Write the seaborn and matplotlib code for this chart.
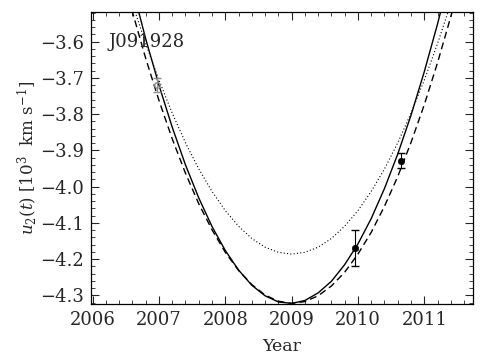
import pandas as pd
import matplotlib
matplotlib.use("Agg")
import matplotlib.pyplot as plt
import seaborn as sns
from matplotlib.ticker import MultipleLocator

# -------------------------------
# DATA
# -------------------------------
years = [2006.4, 2006.6, 2006.8, 2007.0, 2007.2, 2007.4, 2007.6, 2007.8, 2008.0,
         2008.2, 2008.4, 2008.6, 2008.8, 2009.0, 2009.2, 2009.4, 2009.6, 2009.8,
         2010.0, 2010.2, 2010.4, 2010.6, 2010.8, 2011.0, 2011.2, 2011.4, 2011.6]

fit_solid = [-3.298, -3.451, -3.592, -3.720, -3.836, -3.940, -4.031, -4.110, -4.176,
             -4.230, -4.272, -4.301, -4.318, -4.322, -4.314, -4.293, -4.261, -4.215,
             -4.158, -4.088, -4.005, -3.910, -3.803, -3.683, -3.551, -3.407, -3.250]

fit_dashed = [-3.379, -3.518, -3.646, -3.762, -3.868, -3.963, -4.047, -4.119, -4.181,
              -4.231, -4.270, -4.299, -4.316, -4.322, -4.317, -4.301, -4.274, -4.236,
              -4.186, -4.126, -4.054, -3.972, -3.878, -3.774, -3.658, -3.531, -3.393]

fit_dotted = [-3.375, -3.495, -3.605, -3.706, -3.797, -3.879, -3.951, -4.013, -4.066,
              -4.109, -4.143, -4.167, -4.181, -4.186, -4.181, -4.167, -4.143, -4.109,
              -4.066, -4.013, -3.951, -3.879, -3.797, -3.706, -3.605, -3.495, -3.375]

# measured points
obs_year = [2009.95, 2010.65]
obs_u2 = [-4.169, -3.928]
obs_err = [0.050, 0.020]

# grey (excluded) point
grey_year = [2006.97]
grey_u2 = [-3.720]
grey_err = [0.020]

label = "J091928"

df = pd.DataFrame({"Year": years, "solid": fit_solid,
                   "dashed": fit_dashed, "dotted": fit_dotted})

# -------------------------------
# STYLE
# -------------------------------
sns.set_theme(style="ticks")
plt.rcParams["font.family"] = ["DejaVu Serif"]
plt.rcParams["mathtext.fontset"] = "dejavuserif"
plt.rcParams["xtick.direction"] = "in"
plt.rcParams["ytick.direction"] = "in"
plt.rcParams["xtick.top"] = True
plt.rcParams["ytick.right"] = True

fig = plt.figure(figsize=(4.85, 3.64), dpi=100)
ax = fig.add_axes([0.1876, 0.164, 0.787, 0.804])

# -------------------------------
# CURVES
# -------------------------------
sns.lineplot(data=df, x="Year", y="solid", ax=ax, color="black", lw=1.0,
             estimator=None, sort=False)
sns.lineplot(data=df, x="Year", y="dashed", ax=ax, color="black", lw=1.0,
             estimator=None, sort=False, dashes=False, linestyle=(0, (5, 3)))
sns.lineplot(data=df, x="Year", y="dotted", ax=ax, color="black", lw=0.8,
             estimator=None, sort=False, linestyle=(0, (1, 2)))

# -------------------------------
# POINTS
# -------------------------------
ax.errorbar(grey_year, grey_u2, yerr=grey_err, fmt="o", ms=4, mfc="none",
            mec="0.55", ecolor="0.55", elinewidth=0.8, capsize=3, zorder=4)
ax.errorbar(obs_year, obs_u2, yerr=obs_err, fmt="none", ecolor="black",
            elinewidth=0.8, capsize=3, zorder=4)
sns.scatterplot(x=obs_year, y=obs_u2, ax=ax, color="black", s=22,
                edgecolor="black", zorder=5)

# -------------------------------
# AXES
# -------------------------------
ax.set_xlim(2005.975, 2011.73)
ax.set_ylim(-4.3245, -3.517)
ax.xaxis.set_major_locator(MultipleLocator(1))
ax.xaxis.set_minor_locator(MultipleLocator(0.2))
ax.yaxis.set_major_locator(MultipleLocator(0.1))
ax.yaxis.set_minor_locator(MultipleLocator(0.02))
ax.tick_params(which="major", length=6, width=0.8, labelsize=13, pad=5)
ax.tick_params(which="minor", length=3, width=0.6)
for s in ax.spines.values():
    s.set_linewidth(0.9)
    s.set_color("black")

ax.set_xlabel("Year", fontsize=12.5, labelpad=6)
ax.set_ylabel(r"$u_2(t)$ [10$^3$  km s$^{-1}$]", fontsize=12, labelpad=1)
ax.text(0.045, 0.895, label, transform=ax.transAxes, fontsize=13,
        va="center", ha="left")

fig.savefig("out.png", dpi=100)
